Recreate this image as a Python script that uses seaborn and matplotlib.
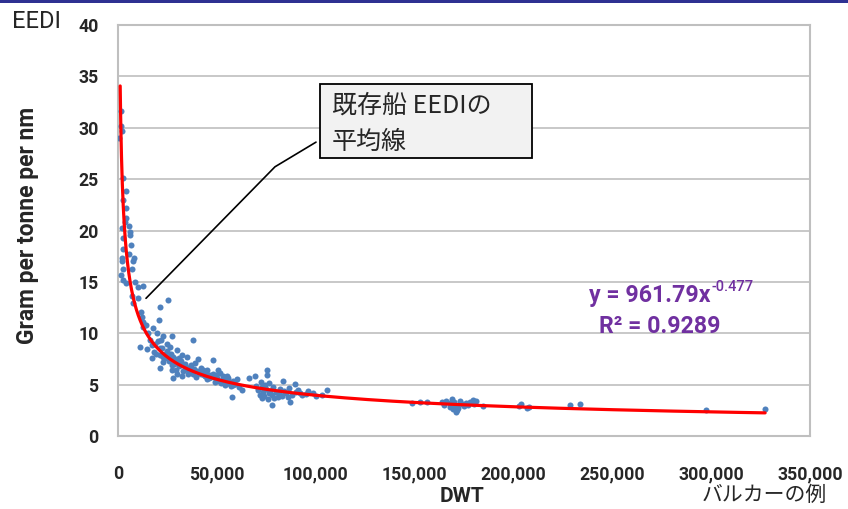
import numpy as np
import pandas as pd
import matplotlib
matplotlib.use("Agg")
import matplotlib.pyplot as plt
import matplotlib.ticker as mticker
from matplotlib.patches import Rectangle
import seaborn as sns

# bulk carriers: DWT vs EEDI
dwt = [
    1500, 1600, 2000, 600, 2400, 3900, 2700, 4000, 4000, 3500, 5600, 6100, 6100, 2000,
    2700, 6600, 2400, 2000, 1900, 5700, 8100, 7800, 6900, 2400,
    1500, 2700, 4000, 8600, 10300, 12500, 6900, 10300, 7800, 25400, 21200, 11500,
    12000, 12800, 12800, 20900, 17900, 19600, 23000, 27100, 37800, 11100, 14500, 17000,
    18700, 21200, 26300, 29700, 17000, 23000, 28000, 32300, 34800, 40600, 21200, 27100,
    27900, 32300, 36500, 43200, 48200, 46500, 51600, 55000, 58300,
    24000, 26000, 28500, 30000, 31000, 33000, 35000, 36000, 38000, 40000, 42000, 44000,
    45000, 47000, 49000, 50000, 52000, 53000, 54000, 56000, 57000, 59000, 60000, 61000,
    25000, 27000, 29000, 32000, 34000, 37000, 39000, 42000, 45000, 48000, 30000, 33000,
    23000, 19000, 16000, 15000, 14000, 22000, 25000,
    20000, 22500, 24500, 26500, 31500, 34500, 38500, 41000, 43500, 46000, 51000, 55500,
    18000, 21000, 24000, 27500, 29500, 31000, 35500, 39500, 44500, 49500, 53500, 58000,
    75200, 75200, 69300, 66400, 83300, 89500, 105600, 98800, 73000, 76400, 72700, 77700,
    81000, 87000, 92000, 62600, 57500, 53300, 56600, 50600, 58200,
    71000, 72000, 73500, 74000, 75000, 76000, 77000, 78000, 79000, 80000, 81500, 82000,
    83000, 84000, 85000, 86000, 88000, 90000, 91000, 93000, 95000, 100000, 103000, 74500,
    76500, 78500, 72500, 86500, 70000, 96000,
    163700, 156100, 152700, 148500, 184800, 170000, 171600, 167700, 176100, 179500,
    165000, 168000, 169000, 170500, 172000, 173000, 174000, 175000, 171000, 169500,
    166000, 177000, 178000, 180000, 181000,
    203000, 206700, 204000, 208000, 228600, 233700, 297400, 327300,
]
eedi = [
    31.6, 30.2, 29.7, 29.0, 25.1, 23.8, 23.0, 22.2, 21.2, 20.8, 20.4, 19.9, 19.6, 20.2,
    19.3, 18.6, 18.2, 17.3, 17.0, 17.7, 17.3, 17.0, 16.3, 16.3,
    15.7, 15.2, 14.9, 15.0, 14.5, 14.6, 13.6, 13.4, 12.9, 13.2, 12.6, 12.1,
    11.6, 11.1, 10.6, 11.3, 10.5, 10.0, 9.7, 9.7, 9.3, 8.7, 8.5, 8.9,
    9.0, 8.6, 8.7, 8.4, 7.6, 7.7, 7.7, 7.9, 7.7, 7.5, 6.6, 6.4,
    5.6, 5.8, 6.7, 6.4, 7.4, 5.9, 6.1, 5.8, 5.4,
    8.0, 7.3, 7.0, 7.2, 6.8, 6.9, 6.5, 6.2, 6.0, 6.3, 6.0, 5.8,
    5.5, 5.7, 5.3, 5.6, 5.2, 5.5, 5.0, 5.3, 4.9, 5.1, 5.5, 4.8,
    8.3, 8.0, 7.5, 7.3, 7.0, 6.9, 7.1, 6.6, 6.4, 6.0, 6.0, 6.3,
    7.2, 8.0, 9.3, 10.0, 10.8, 9.3, 9.0,
    9.2, 8.6, 7.8, 7.6, 7.0, 6.6, 6.5, 6.1, 5.9, 5.6, 5.4, 5.6,
    8.2, 7.9, 7.6, 6.9, 6.4, 7.6, 6.0, 5.7, 6.2, 5.9, 5.7, 5.0,
    6.4, 5.9, 5.8, 5.6, 5.4, 5.1, 4.5, 4.2, 4.8, 4.2, 3.7, 3.0,
    3.8, 3.3, 4.2, 4.5, 3.8, 5.8, 5.1, 6.4, 5.3,
    4.5, 4.0, 4.3, 3.9, 4.6, 3.6, 4.4, 4.0, 3.7, 4.3, 4.1, 4.6,
    3.9, 4.4, 4.2, 3.8, 4.0, 4.3, 4.5, 4.0, 4.1, 3.9, 4.0, 5.0,
    5.2, 4.8, 5.3, 4.7, 4.9, 4.4,
    3.3, 3.3, 3.3, 3.2, 2.9, 3.3, 2.5, 3.2, 3.2, 3.5,
    3.0, 2.8, 3.6, 3.0, 2.7, 3.4, 3.1, 2.9, 2.3, 2.6,
    3.4, 3.0, 3.3, 3.1, 3.4,
    2.9, 2.7, 3.1, 2.8, 3.0, 3.1, 2.5, 2.6,
]

# power trend line shown in the chart
TREND_A = 961.79
TREND_B = -0.477
trend_x = np.geomspace(1100, 327300, 300)
trend_y = TREND_A * trend_x ** TREND_B

x_ticks = [0, 50000, 100000, 150000, 200000, 250000, 300000, 350000]
y_ticks = [0, 5, 10, 15, 20, 25, 30, 35, 40]

df = pd.DataFrame({"DWT": dwt, "EEDI": eedi})
trend = pd.DataFrame({"DWT": trend_x, "EEDI": trend_y})

sns.set_style("white")
plt.rcParams["font.family"] = ["Roboto", "DejaVu Sans"]
cjk = ["Noto Sans CJK JP", "DejaVu Sans"]
grid_c = "#bfbfbf"

fig = plt.figure(figsize=(8.48, 5.09), dpi=100)
ax = fig.add_axes([118 / 848, 1 - 436 / 509, 692 / 848, 411 / 509])

sns.scatterplot(data=df, x="DWT", y="EEDI", ax=ax, color="#4f81bd", marker="o",
                s=19, linewidth=0, zorder=3)
sns.lineplot(data=trend, x="DWT", y="EEDI", ax=ax, color="#ff0000", lw=2.3,
             zorder=4)

ax.set_xlim(0, 350000)
ax.set_ylim(0, 40)
ax.set_xticks(x_ticks)
ax.set_yticks(y_ticks)
ax.xaxis.set_major_formatter(mticker.FuncFormatter(lambda v, p: f"{int(v):,}"))
ax.yaxis.grid(True, color=grid_c, lw=1.2)
ax.set_axisbelow(True)
for s in ax.spines.values():
    s.set_color(grid_c)
    s.set_linewidth(1.5)
ax.tick_params(axis="x", direction="out", length=5, color=grid_c, width=1.2,
               pad=16, labelsize=12.7)
ax.tick_params(axis="y", direction="out", length=5, color=grid_c, width=1.2,
               pad=9, labelsize=12.7)
for lab in ax.get_xticklabels() + ax.get_yticklabels():
    lab.set_fontweight("bold")
ax.set_xlabel("")
ax.set_ylabel("")

# axis titles
fig.text(28 / 848, 1 - 225 / 509, "Gram per tonne per nm", rotation=90,
         ha="center", va="center", fontsize=16.5, fontweight="bold")
fig.text(12 / 848, 1 - 22 / 509, "EEDI", ha="left", va="center", fontsize=17)
fig.text(462 / 848, 1 - 496 / 509, "DWT", ha="center", va="center",
         fontsize=15, fontweight="bold")
fig.text(827 / 848, 1 - 495 / 509, "バルカーの例", ha="right", va="center",
         fontsize=15, family=cjk)

# callout box with leader line
ax.add_patch(Rectangle((0.2919, 0.6757), 0.3059, 0.1807, transform=ax.transAxes,
                       facecolor="#f2f2f2", edgecolor="black", lw=1.3, zorder=5))
ax.text(0.309, 0.8035, "既存船 EEDIの", transform=ax.transAxes, ha="left",
        va="center", fontsize=18, family=cjk, zorder=6)
ax.text(0.309, 0.7160, "平均線", transform=ax.transAxes, ha="left",
        va="center", fontsize=18, family=cjk, zorder=6)
ax.plot([14160, 79400, 100150], [13.4, 26.2, 28.6], color="black", lw=1.2,
        zorder=5)

# trend equation
purple = "#7030a0"
ax.text(0.8555, 0.3268, "y = 961.79x", transform=ax.transAxes, ha="right",
        va="baseline", fontsize=16.7, fontweight="bold", color=purple)
ax.text(0.8570, 0.3530, "-0.477", transform=ax.transAxes, ha="left",
        va="baseline", fontsize=10.5, fontweight="medium", color=purple)
ax.text(0.7830, 0.2513, "R² = 0.9289", transform=ax.transAxes, ha="center",
        va="baseline", fontsize=16.7, fontweight="bold", color=purple)

# dark line across the top of the slide
fig.patches.append(Rectangle((0, 1 - 3 / 509), 1, 3 / 509, transform=fig.transFigure,
                             facecolor="#2e3192", edgecolor="none"))

fig.savefig("out.png", dpi=100)
